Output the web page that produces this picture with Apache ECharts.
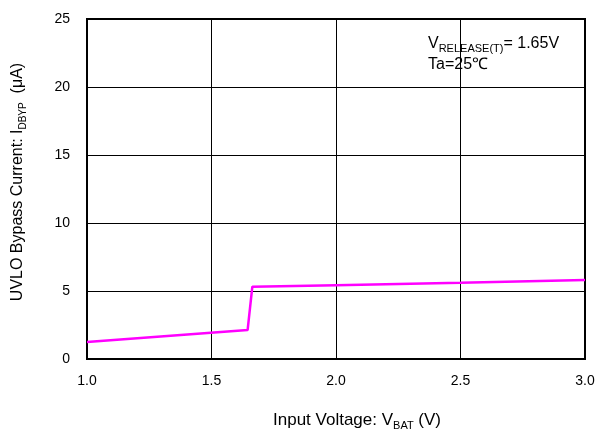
<!DOCTYPE html>
<html><head><meta charset="utf-8">
<script src="https://cdn.jsdelivr.net/npm/echarts@6/dist/echarts.min.js"></script>
<style>html,body{margin:0;padding:0;background:#fff}#c{width:597px;height:429px}</style>
</head><body><div id="c"></div>
<script>
const vbat = [1.0, 1.645, 1.664, 2.0, 2.5, 3.0];
const idbyp = [1.25, 2.13, 5.32, 5.43, 5.6, 5.8];
const xTicks = [1.0, 1.5, 2.0, 2.5, 3.0];
const yTicks = [0, 5, 10, 15, 20, 25];

const chart = echarts.init(document.getElementById('c'));
const F = 'Liberation Sans, Arial, sans-serif';
const rich = (fs, ss) => ({n: {fontSize: fs, fontFamily: F, color: '#000', lineHeight: fs + 4}, s: {fontSize: ss, fontFamily: F, color: '#000', verticalAlign: 'bottom', lineHeight: ss + 4}});
chart.setOption({
  animation: false,
  grid: {left: 87, right: 12, top: 19, bottom: 70, show: true, borderColor: '#000', borderWidth: 2, outerBoundsMode: 'none', containLabel: false},
  xAxis: {
    type: 'value', min: 1.0, max: 3.0, interval: 0.5,
    axisLine: {show: false}, axisTick: {show: false},
    splitLine: {show: true, lineStyle: {color: '#000', width: 1}},
    axisLabel: {color: '#000', fontSize: 14, fontFamily: F, margin: 15, formatter: v => v.toFixed(1)},
    name: '{n|Input Voltage: V}{s|BAT}{n| (V)}', nameLocation: 'middle', nameGap: 51,
    nameTextStyle: {rich: rich(17, 11), padding: [0, 0, 0, 42]}
  },
  yAxis: {
    type: 'value', min: 0, max: 25, interval: 5,
    axisLine: {show: false}, axisTick: {show: false},
    splitLine: {show: true, lineStyle: {color: '#000', width: 1}},
    axisLabel: {color: '#000', fontSize: 14, fontFamily: F, margin: 17},
    name: '{n|UVLO Bypass Current: I}{s|DBYP}{n|  (μA)}', nameLocation: 'middle', nameGap: 59,
    nameTextStyle: {rich: rich(16, 10), padding: [0, 0, 0, 14]}
  },
  graphic: [
    {type: 'text', left: 428, top: 36, style: {rich: {n: {fontSize: 16, fontFamily: F, fill: '#000', lineHeight: 20}, s: {fontSize: 11, fontFamily: F, fill: '#000', verticalAlign: 'bottom', lineHeight: 15}}, text: '{n|V}{s|RELEASE(T)}{n|= 1.65V}'}},
    {type: 'text', left: 428, top: 57, style: {text: 'Ta=25℃', fontSize: 16, fontFamily: F, fill: '#000'}}
  ],
  series: [{
    type: 'line', data: vbat.map((x, i) => [x, idbyp[i]]),
    symbol: 'none', lineStyle: {color: '#FF00FF', width: 2.5}, z: 5
  }]
});
</script></body></html>
